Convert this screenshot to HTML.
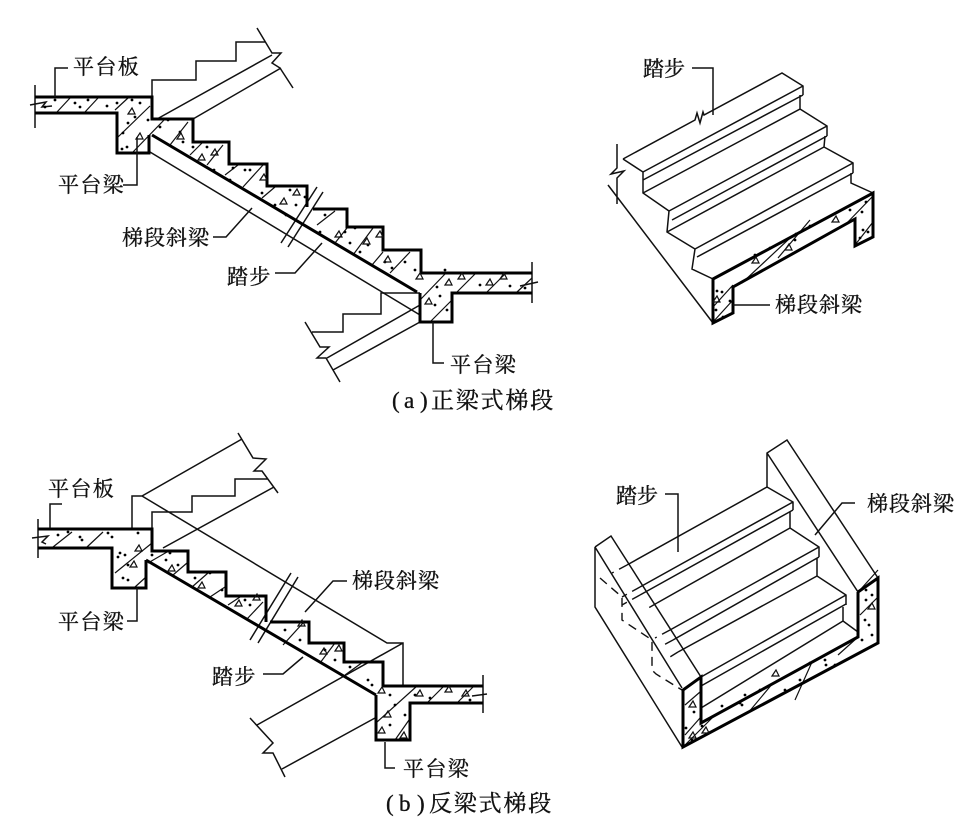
<!DOCTYPE html>
<html>
<head>
<meta charset="utf-8">
<style>
html,body{margin:0;padding:0;background:#fff;width:977px;height:831px;overflow:hidden}
svg{display:block}
text{font-family:"Liberation Serif","Noto Serif CJK SC",serif;font-size:21px;fill:#111;stroke:#111;stroke-width:.35}
.c{font-size:23px}
.t{fill:none;stroke:#111;stroke-width:1.5;stroke-linejoin:miter}
.h{fill:none;stroke:#111;stroke-width:1.2}
.k{fill:none;stroke:#000;stroke-width:3;stroke-linejoin:miter}
.d{fill:none;stroke:#000;stroke-width:2.8;stroke-linecap:round}
.tr{fill:none;stroke:#111;stroke-width:1.2}
.da{fill:none;stroke:#111;stroke-width:1.4;stroke-dasharray:9 6}
</style>
</head>
<body>
<svg width="977" height="831" viewBox="0 0 977 831" xmlns="http://www.w3.org/2000/svg">
<!-- A left thin -->
<path class="t" d="M152 97V80H196V61H236V42H265M257 28L272 53H281L272 63L280 68L293 88M157 119L272 55M193 119L281 68M150 152L420 315M317 187L281 243M323 192L288 247"/>
<path class="t" d="M420 293H381V314H343V332H312M305 322L320 347H329L317 358H326L340 382M420 305L327 358M420 322L333 370"/>
<path class="t" d="M35 85V128M30 105L46 102L42 107L52 106M532 262V303M520 286L538 282"/>
<!-- A hatch -->
<path class="h" d="M57 112L70 98M85 112L98 98M115 110L128 98M118 137L150 106M133 152L165 119M170 145L188 122M190 155L202 143M207 165L223 145M225 175L238 165M243 187L263 165M262 198L275 187M317 225L335 211M335 243L347 228M353 255L373 228M372 265L383 252M390 273L410 252M420 300L445 274M457 292L475 274M487 292L505 274M517 292L532 278M430 322L452 300"/>
<path class="k" d="M35 97H152V119H193V142H229V164H267V186H307V207M313 209H347V227H383V250H421V273H532M532 293H452V322H420V293M152 135L417 292M35 113H117V153H149V135"/>
<path class="d" d="M45 107h0M55 100h0M75 103h0M88 100h0M80 107h0M107 106h0M117 103h0M132 100h0M140 103h0M135 117h0M128 123h0M123 133h0M148 120h0M127 147h0M122 149h0M168 120h0M160 127h0M180 132h0M193 147h0M207 147h0M230 180h0M245 170h0M250 170h0M233 168h0M290 190h0M275 205h0M296 205h0M305 197h0M325 215h0M345 232h0M355 228h0M368 245h0M350 243h0M392 268h0M405 262h0M415 270h0M437 287h0M480 285h0M510 286h0M525 288h0M440 296h0M435 305h0M447 310h0M445 270h0M183 142h0M214 170h0M262 193h0M286 215h0M320 232h0M360 252h0M385 262h0"/>
<path class="tr" d="M128 114l4-6l3 6zM136 139l4-6l3 6zM177 139l4-6l3 6zM198 160l4-6l3 6zM211 155l4-6l3 6zM260 180l4-6l3 6zM280 204l4-6l3 6zM293 195l4-6l3 6zM335 237l4-6l3 6zM363 244l4-6l3 6zM376 237l4-6l3 6zM384 262l4-6l3 6zM416 279l4-6l3 6zM445 285l4-6l3 6zM458 279l4-6l3 6zM486 285l4-6l3 6zM500 279l4-6l3 6zM425 304l4-6l3 6z"/>
<!-- A leaders -->
<path class="t" d="M55 97V68H68M123 185H137V137M213 237H226L252 208M275 273H295L322 243M433 322V363H444"/>
<text x="73" y="74" letter-spacing="1.4">平台板</text>
<text x="58" y="192" letter-spacing="1.4">平台梁</text>
<text x="122" y="245" letter-spacing="1">梯段斜梁</text>
<text x="227" y="284" letter-spacing="1.4">踏步</text>
<text x="450" y="372" letter-spacing="1.4">平台梁</text>
<text class="c" x="392" y="408">(</text><text class="c" x="404" y="408">a</text><text class="c" x="420" y="408">)</text>
<text class="c" x="431" y="408" letter-spacing="1.8">正梁式梯段</text>

<!-- A right -->
<path class="t" d="M623 159L695 120L697 113L700 123L703 112L704 115L782 73L803 86V95M643 172L803 86M643 180L803 95M623 159L643 172V193L669 211M643 193L800 109V95M800 109L827 126V136M669 211L827 126M672 220L827 136M669 211L667 232L695 249M825 136L824 147L853 163V173M695 249L853 163M697 257L853 173M695 249L692 269L713 279M851 173V183L873 193M667 232L824 147"/>
<path class="t" d="M617 144V168L611 174L624 171L617 178V204M608 185L713 323"/>
<path class="h" d="M713 307L733 285M713 322L733 300M742 283L790 238M778 258L810 220M845 225L872 197M855 245L873 222"/>
<path class="k" d="M713 279L873 193V237L855 246V219L733 287V313L713 323Z" stroke-width="2.6"/>
<path class="d" d="M717 291h0M716 310h0M723 317h0M730 301h0M722 292h0M770 248h0M755 255h0M796 234h0M810 226h0M850 210h0M866 202h0M862 212h0M863 230h0M868 232h0M860 238h0M795 240h0"/>
<path class="tr" d="M713 302l4-6l3 6zM752 263l4-6l3 6zM832 222l4-6l3 6zM785 250l4-6l3 6z"/>
<path class="t" d="M692 68H713V115M733 305H770"/>
<text x="643" y="76" letter-spacing="0">踏步</text>
<text x="775" y="312" letter-spacing="1">梯段斜梁</text>

<!-- B left thin -->
<path class="t" d="M132 529V496H142L242 439M238 433L253 458L266 459L254 471H262L278 493M152 529V512H192V496H235V479H268M163 548L274 487M142 496L387 643H403V686M403 643L257 725M375 718L282 769M250 718L273 743L263 753H273L285 777M291 573L250 640M298 577L258 643"/>
<path class="t" d="M38 519V558M32 538L48 536L42 542L46 544M483 675V713M472 696L487 694"/>
<path class="h" d="M53 547L72 532M87 547L103 532M115 573L152 543M135 587L146 577M148 563L167 552M173 575L187 563M192 587L208 573M210 597L225 587M228 605L240 597M247 619L263 602M283 645L303 623M320 663L335 643M345 675L363 662M377 722L417 686M395 740L409 720M427 703L443 687M457 703L473 687"/>
<path class="k" d="M38 529H152V551H188V572H226V596H266V622M270 622H309V643H344V662H383V686H483M483 703H410V740H376V695M146 560L376 695M38 548H112V588H146V560"/>
<path class="d" d="M58 535h0M68 532h0M80 537h0M82 540h0M108 533h0M112 537h0M138 533h0M120 553h0M125 555h0M128 565h0M118 557h0M123 578h0M128 580h0M152 555h0M170 553h0M166 560h0M195 578h0M205 572h0M210 573h0M245 600h0M250 605h0M285 630h0M300 640h0M325 650h0M335 660h0M350 667h0M368 680h0M372 685h0M390 695h0M395 705h0M405 715h0M390 725h0M415 695h0M430 698h0M470 700h0M178 565h0M222 590h0"/>
<path class="tr" d="M135 551l4-6l3 6zM130 567l4-6l3 6zM168 571l4-6l3 6zM198 588l4-6l3 6zM235 606l4-6l3 6zM253 600l4-6l3 6zM298 626l4-6l3 6zM320 654l4-6l3 6zM335 651l4-6l3 6zM378 693l4-6l3 6zM384 717l4-6l3 6zM378 733l4-6l3 6zM400 738l4-6l3 6zM416 696l4-6l3 6zM445 692l4-6l3 6zM462 696l4-6l3 6z"/>
<path class="t" d="M50 528V504H62M127 621H137V588M347 581H333L305 612M263 674H283L303 657M385 742V768H395"/>
<text x="48" y="496" letter-spacing="1.4">平台板</text>
<text x="58" y="629" letter-spacing="1.4">平台梁</text>
<text x="352" y="588" letter-spacing="1">梯段斜梁</text>
<text x="212" y="684" letter-spacing="1.4">踏步</text>
<text x="403" y="776" letter-spacing="1.4">平台梁</text>
<text class="c" x="386" y="811">(</text><text class="c" x="399" y="811">b</text><text class="c" x="417" y="811">)</text>
<text class="c" x="429" y="811" letter-spacing="1.8">反梁式梯段</text>

<!-- B right -->
<path class="t" d="M767 487V453L787 440L878 578M767 453L858 592V637M595 547L611 536L701 677M595 547V607L682 747M595 547L682 688"/>
<path class="t" d="M767 487L627 565M767 487L793 502V510M793 502L640 587M793 510L640 595M790 512V528L819 547V557M790 528L657 603M819 547L670 630M819 557L673 640M817 558V576L846 595V605M817 576L678 652M846 595L701 677M846 604L701 686M843 607V621L858 632M843 621L701 708"/>
<path class="da" d="M627 565L612 573M640 587L622 597M640 595L622 605M657 603L645 610M670 630L655 638M673 640L660 647M678 652L665 660M600 578L622 597V620L652 640V670L656 674L682 690"/>
<path class="h" d="M685 735L700 718M685 705L700 692M685 745L715 715M748 713L773 683M795 700L812 662M838 655L858 637M860 615L878 597M860 590L878 570"/>
<path class="k" d="M858 592L878 578V643L683 747V690L701 677V723L858 637V592" stroke-width="2.6"/>
<path class="d" d="M686 728h0M694 712h0M692 740h0M702 726h0M722 706h0M740 703h0M742 705h0M745 695h0M760 690h0M785 690h0M790 690h0M800 680h0M825 660h0M826 665h0M835 665h0M866 590h0M872 595h0M866 600h0M869 625h0M865 620h0M872 635h0M862 640h0M810 663h0"/>
<path class="tr" d="M689 707l4-6l3 6zM689 738l4-6l3 6zM702 733l4-6l3 6zM772 676l4-6l3 6zM868 609l4-6l3 6z"/>
<path class="t" d="M665 494H678V552M855 503H842L815 535"/>
<text x="616" y="503" letter-spacing="0">踏步</text>
<text x="867" y="511" letter-spacing="1">梯段斜梁</text>
</svg>
</body>
</html>
